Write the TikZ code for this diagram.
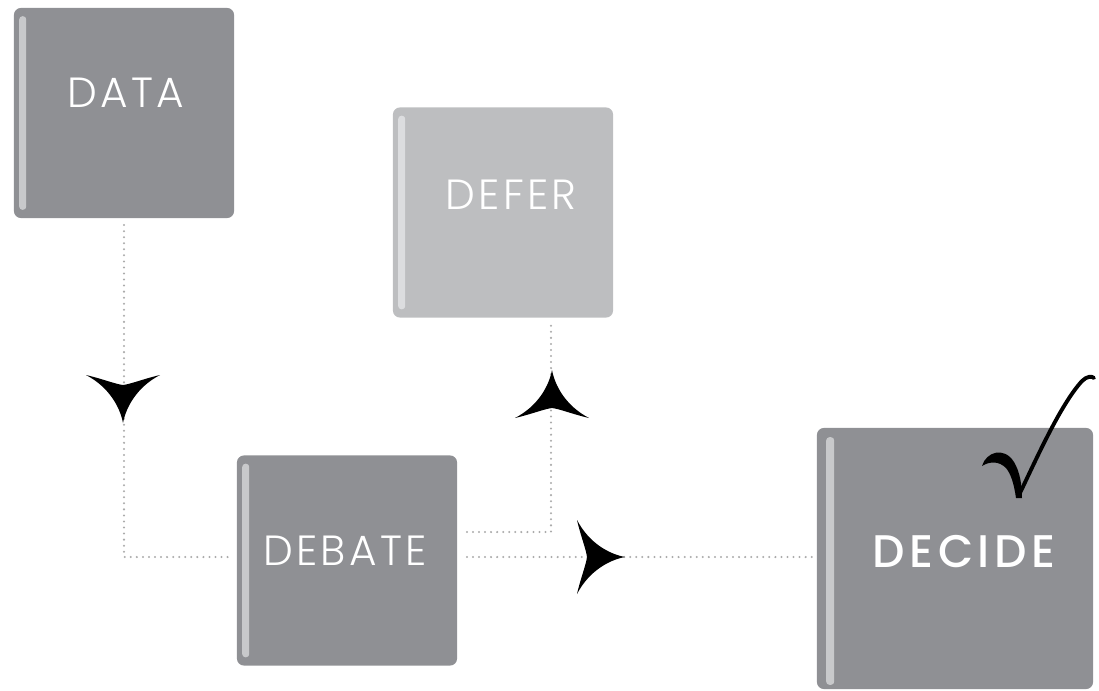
\documentclass[tikz,border=0pt]{standalone}
\usepackage{fontspec}
\setmainfont{Poppins}
\IfFontExistsTF{Poppins Light}
  {\newfontfamily\cardfont[LetterSpace=8]{Poppins Light}}
  {\newfontfamily\cardfont[LetterSpace=8]{Poppins}}
\IfFontExistsTF{Poppins Medium}
  {\newfontfamily\decidefont[LetterSpace=10]{Poppins Medium}}
  {\newfontfamily\decidefont[LetterSpace=10]{Poppins}}
\usetikzlibrary{calc, positioning}

\definecolor{boxgray}{HTML}{8F9094}
\definecolor{bargray}{HTML}{C8C9CB}
\definecolor{palebox}{HTML}{BDBEC0}
\definecolor{palebar}{HTML}{DCDDDF}
\definecolor{dotgray}{HTML}{ABABAB}

\tikzset{
  stepcard/.style={rectangle, rounded corners=2pt, fill=boxgray, inner sep=0pt,
    minimum width=2.2cm, minimum height=2.1cm},
  cardbar/.style={fill=bargray, rounded corners=0.9pt},
  cardtext/.style={text=white, font=\cardfont\fontsize{12}{13}\selectfont},
  dotline/.style={draw=dotgray, line width=0.65pt, line cap=round,
    dash pattern=on 0pt off 1.72pt},
  spike/.pic={
    \fill[black] (0,0) .. controls (-16,-3) and (-36,-14) .. (-48,-37)
      .. controls (-44,-20) and (-39,-8) .. (-38,0)
      .. controls (-39,8) and (-44,20) .. (-48,37)
      .. controls (-36,14) and (-16,3) .. (0,0) -- cycle;
  }
}

\begin{document}
\begin{tikzpicture}[x=0.01cm, y=-0.01cm]
  \useasboundingbox (0,0) rectangle (1099,690);
  % the four cards
  \node[stepcard] (data) at (124,113) {};
  \node[stepcard, fill=palebox] (defer) at (503,212.5) {};
  \node[stepcard] (debate) at (347,560.5) {};
  \node[stepcard, minimum width=2.76cm, minimum height=2.61cm] (decide) at (955,558.5) {};
  % light bars on the left edge
  \foreach \c in {data,debate} {
    \fill[cardbar] ($(\c.north west)+(6,9)$) rectangle ($(\c.south west)+(13,-9)$);
  }
  \fill[cardbar, fill=palebar] ($(defer.north west)+(6,9)$) rectangle ($(defer.south west)+(13,-9)$);
  \fill[cardbar] ($(decide.north west)+(10,10)$) rectangle ($(decide.south west)+(18,-5)$);
  % labels
  \node[cardtext] (data-label) at (126,93) {DATA};
  \node[cardtext] (defer-label) at (511,195) {DEFER};
  \node[cardtext] (debate-label) at (345,551) {DEBATE};
  \node[text=white, font=\decidefont\fontsize{13}{14}\selectfont] (decide-label) at (964,552) {DECIDE};
  % dotted connectors
  \draw[dotline, shorten <=1.8pt, shorten >=2.3pt] (data.south) |- ($(debate.west)+(0,-3.5)$);
  \draw[dotline, shorten <=2.6pt, shorten >=1.8pt] ($(debate.east)+(0,-28.5)$) -| ($(defer.south)+(48,0)$);
  \draw[dotline, shorten <=2.6pt, shorten >=0.6pt] ($(debate.east)+(0,-3.5)$) -- ($(decide.west)+(0,-1.5)$);
  % arrow heads
  \pic[rotate=-90] at (123,423) {spike};
  \pic[rotate=90] at (552,370) {spike};
  \pic at (625,557) {spike};
  % check mark
  \fill (982,466) .. controls (986,452) and (1004,446) .. (1014,462)
    .. controls (1020,472) and (1022,485) .. (1022,498) -- (1016,498)
    .. controls (1014,484) and (1011,474) .. (1006,468)
    .. controls (999,461) and (990,461) .. (982,466) -- cycle;
  \draw[line width=1.1pt, line cap=round] (1019,495) .. controls (1035,462) and (1060,405) .. (1082,381)
    .. controls (1087,376) and (1092,376) .. (1094,378);
\end{tikzpicture}
\end{document}
